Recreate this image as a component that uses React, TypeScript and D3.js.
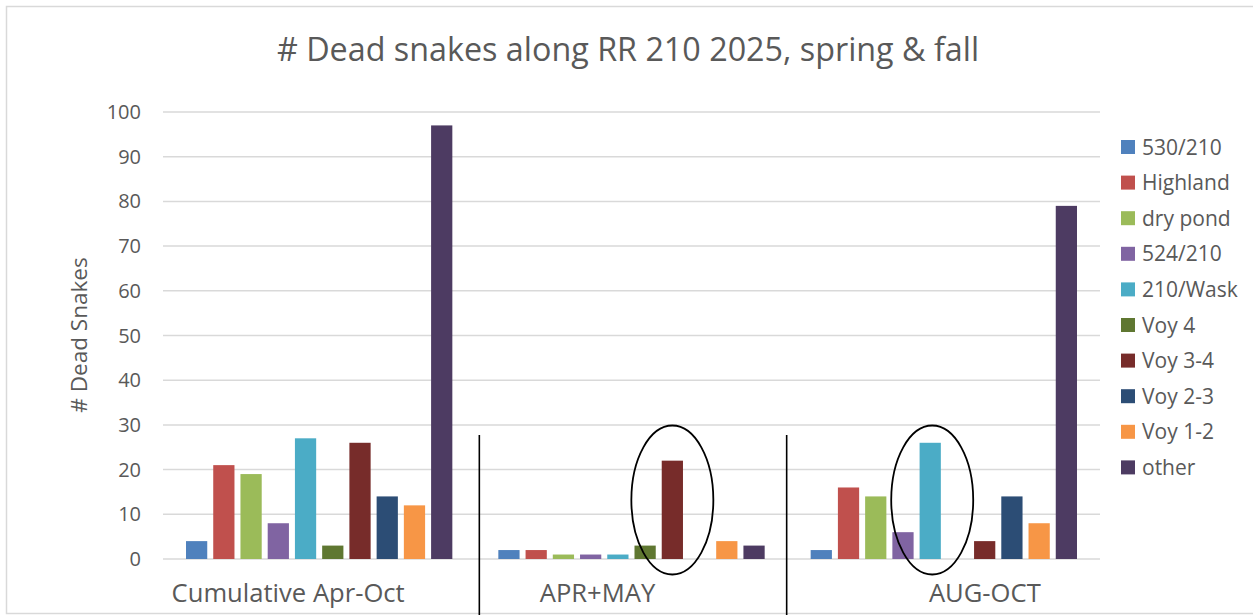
import React from "react";
import * as d3 from "d3";

const title = "# Dead snakes along RR 210 2025, spring & fall";
const yAxisTitle = "# Dead Snakes";
const categories = ["Cumulative Apr-Oct", "APR+MAY", "AUG-OCT"];
const seriesNames = ["530/210", "Highland", "dry pond", "524/210", "210/Wask", "Voy 4", "Voy 3-4", "Voy 2-3", "Voy 1-2", "other"];
const seriesColors = ["#4F81BD", "#C0504D", "#9BBB59", "#8064A2", "#4BACC6", "#5F7731", "#772C2A", "#2C4D75", "#F79646", "#4D3B62"];
// values per series: [Cumulative, APR+MAY, AUG-OCT]
const s530_210 = [4, 2, 2];
const sHighland = [21, 2, 16];
const sDryPond = [19, 1, 14];
const s524_210 = [8, 1, 6];
const s210Wask = [27, 1, 26];
const sVoy4 = [3, 3, 0];
const sVoy34 = [26, 22, 4];
const sVoy23 = [14, 0, 14];
const sVoy12 = [12, 4, 8];
const sOther = [97, 3, 79];
const seriesValues = [s530_210, sHighland, sDryPond, s524_210, s210Wask, sVoy4, sVoy34, sVoy23, sVoy12, sOther];
const yTicks = [0, 10, 20, 30, 40, 50, 60, 70, 80, 90, 100];
// highlighted bars: [category index, series index]
const highlights: [number, number][] = [[1, 6], [2, 4]];

const W = 1253, H = 615;
const plotLeft = 163, plotRight = 1100, plotTop = 112, plotBottom = 559;
const textColor = "#595959";
const font = "'Open Sans', sans-serif";
const labelShift = [-31, -34, 41];

export default function App() {
  const y = d3.scaleLinear().domain([0, 100]).range([plotBottom, plotTop]);
  const x0 = d3.scaleBand<string>().domain(categories).range([plotLeft, plotRight]).padding(0);
  const gw = x0.bandwidth();
  const x1 = d3.scaleBand<string>().domain(seriesNames).range([23, gw - 23]).paddingInner(0.22).paddingOuter(0);

  return (
    <svg width={W} height={H} style={{ position: "absolute", left: 0, top: 0, background: "#fff" }}>
      <rect x={6.5} y={6.5} width={W + 20} height={607} fill="#fff" stroke="#d9d9d9" strokeWidth={1.5} />
      <text x={628} y={61} textAnchor="middle" fontFamily={font} fontSize={32.3} fill={textColor}>{title}</text>
      {yTicks.map((t) => (
        <g key={t}>
          <line x1={plotLeft} x2={plotRight} y1={y(t)} y2={y(t)} stroke="#d9d9d9" strokeWidth={1.5} />
          <text x={141} y={y(t)} dy="0.35em" textAnchor="end" fontFamily={font} fontSize={20} fill={textColor}>{t}</text>
        </g>
      ))}
      <text transform={`translate(87,${335}) rotate(-90)`} textAnchor="middle" fontFamily={font} fontSize={22.5} fill={textColor}>{yAxisTitle}</text>
      {categories.map((c, ci) => (
        <g key={c}>
          {seriesNames.map((s, si) => {
            const v = seriesValues[si][ci];
            if (!v) return null;
            return (
              <rect key={s} x={(x0(c) as number) + (x1(s) as number)} y={y(v)} width={x1.bandwidth()} height={y(0) - y(v)} fill={seriesColors[si]} />
            );
          })}
          <text x={(x0(c) as number) + gw / 2 + labelShift[ci]} y={602} textAnchor="middle" fontFamily={font} fontSize={25.6} fill={textColor}>{c}</text>
        </g>
      ))}
      {categories.slice(1).map((c, i) => (
        <line key={c} x1={(x0(c) as number) + (i === 0 ? 4 : -1)} x2={(x0(c) as number) + (i === 0 ? 4 : -1)} y1={435} y2={H} stroke="#000" strokeWidth={1.6} />
      ))}
      {highlights.map(([ci, si]) => {
        const cx = (x0(categories[ci]) as number) + (x1(seriesNames[si]) as number) + x1.bandwidth() / 2 + (ci === 2 ? 2 : 0);
        const cy = y(13.2);
        return <ellipse key={`${ci}-${si}`} cx={cx} cy={cy} rx={41} ry={74.5} fill="none" stroke="#000" strokeWidth={1.8} />;
      })}
      {seriesNames.map((s, i) => (
        <g key={s} transform={`translate(1121,${147 + i * 35.6})`}>
          <rect x={0} y={-7} width={14} height={14} fill={seriesColors[i]} />
          <text x={21} y={0} dy="0.36em" fontFamily={font} fontSize={21} fill={textColor}>{s}</text>
        </g>
      ))}
    </svg>
  );
}
